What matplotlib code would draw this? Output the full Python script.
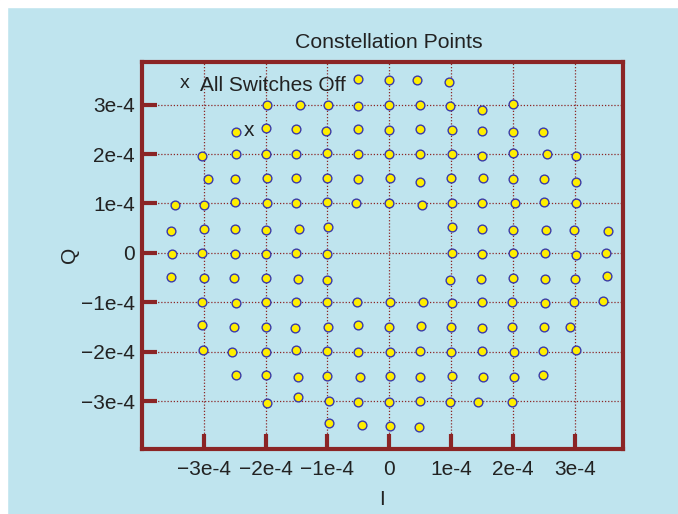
import numpy as np
import matplotlib.pyplot as plt
from matplotlib.ticker import FixedLocator

plt.rcParams['font.family'] = ['Liberation Sans', 'DejaVu Sans']

# constellation points, units of 1e-4, listed row by row (Q = 3.5 ... -3.5)
I_pts = [
    -0.5, 0, 0.45, 0.97,
    -1.98, -1.45, -0.99, -0.5, 0, 0.5, 0.98, 1.49, 1.99,
    -2.48, -2.0, -1.51, -1.02, -0.5, 0, 0.49, 1.01, 1.49, 2.0, 2.49,
    -3.03, -2.48, -2.0, -1.5, -1.0, -0.5, 0, 0.49, 1.01, 1.5, 2.0, 2.54, 3.01,
    -2.93, -2.5, -1.97, -1.5, -1.0, -0.5, 0.01, 0.5, 1.0, 1.52, 2.0, 2.5, 3.01,
    -3.46, -3.0, -2.5, -1.97, -1.5, -1.0, -0.54, 0, 0.52, 1.01, 1.5, 2.03, 2.5, 3.01,
    -3.52, -3.0, -2.5, -2.0, -1.46, -0.99, 1.01, 1.49, 2.0, 2.53, 2.99, 3.54,
    -3.51, -3.02, -2.5, -2.0, -1.5, -1.0, 1.01, 1.5, 2.0, 2.51, 3.01, 3.5,
    -3.52, -3.0, -2.51, -2.0, -1.48, -1.0, 0.98, 1.48, 2.0, 2.51, 3.0, 3.52,
    -3.02, -2.48, -2.0, -1.51, -1.0, -0.52, 0.01, 0.55, 1.01, 1.5, 1.98, 2.51, 2.99, 3.45,
    -3.02, -2.51, -2.0, -1.52, -0.99, -0.51, -0.01, 0.51, 1.0, 1.5, 1.98, 2.5, 2.92,
    -3.01, -2.54, -2.0, -1.51, -1.0, -0.5, 0.01, 0.49, 1.0, 1.49, 2.01, 2.49, 3.01,
    -2.48, -2.0, -1.48, -1.0, -0.48, 0.01, 0.49, 1.01, 1.51, 2.01, 2.49,
    -1.97, -1.48, -0.97, -0.5, 0, 0.49, 0.98, 1.44, 1.98,
    -0.97, -0.44, 0.01, 0.48,
]
Q_pts = [
    3.52, 3.5, 3.5, 3.45,
    3.0, 3.0, 3.0, 2.97, 3.0, 3.0, 2.97, 2.9, 3.01,
    2.45, 2.53, 2.5, 2.47, 2.5, 2.49, 2.5, 2.49, 2.47, 2.45, 2.45,
    1.97, 2.01, 2.0, 2.01, 2.03, 2.01, 2.0, 2.0, 2.0, 1.97, 2.03, 2.01, 1.97,
    1.5, 1.5, 1.51, 1.51, 1.51, 1.5, 1.51, 1.44, 1.51, 1.51, 1.5, 1.5, 1.43,
    0.97, 0.97, 1.02, 1.0, 1.0, 1.02, 1.0, 1.0, 0.97, 1.0, 1.0, 1.0, 1.02, 1.0,
    0.44, 0.49, 0.49, 0.46, 0.48, 0.52, 0.52, 0.48, 0.46, 0.46, 0.46, 0.44,
    -0.02, 0, -0.02, -0.02, 0, -0.02, 0, -0.02, 0, 0, -0.04, 0,
    -0.48, -0.5, -0.5, -0.5, -0.52, -0.55, -0.55, -0.52, -0.5, -0.52, -0.52, -0.46,
    -1.0, -1.02, -1.0, -1.0, -1.0, -0.99, -1.0, -1.0, -1.02, -1.0, -1.0, -1.02, -0.99, -0.97,
    -1.45, -1.5, -1.5, -1.53, -1.5, -1.47, -1.5, -1.48, -1.5, -1.53, -1.5, -1.5, -1.5,
    -1.97, -2.01, -2.0, -1.96, -1.98, -2.0, -2.0, -1.98, -2.01, -1.98, -2.0, -1.98, -1.97,
    -2.48, -2.48, -2.51, -2.5, -2.52, -2.5, -2.52, -2.5, -2.52, -2.52, -2.48,
    -3.03, -2.92, -3.0, -3.02, -3.02, -2.99, -3.02, -3.02, -3.02,
    -3.45, -3.49, -3.5, -3.52,
]
off_I, off_Q = -2.27, 2.47
ticks = [-3, -2, -1, 0, 1, 2, 3]
tick_labels = ['\u22123e-4', '\u22122e-4', '\u22121e-4', '0', '1e-4', '2e-4', '3e-4']

bg = '#bfe4ee'
red = '#8b2525'
txt = '#222222'

fig = plt.figure(figsize=(6.78, 5.14), dpi=100, facecolor=bg)
ax = fig.add_axes([141.7/678, 1-449/514, (622.7-141.7)/678, (449-61.7)/514])
ax.set_facecolor(bg)

scale = 1e-4
I = np.array(I_pts) * scale
Q = np.array(Q_pts) * scale
ax.plot(I, Q, 'o', ms=6.3, mfc='#ffee00', mec='#3a3aa8', mew=1.0, zorder=3)
ax.text(off_I*scale, off_Q*scale, 'x', fontsize=15, ha='center', va='center', color=txt)
ax.text(-3.3*scale, 3.43*scale, 'x', fontsize=14, ha='center', va='center', color=txt)
ax.text(-3.06*scale, 3.38*scale, 'All Switches Off', fontsize=15, ha='left', va='center', color=txt)

ax.set_xlim(-4.0*scale, 3.77*scale)
ax.set_ylim(-3.97*scale, 3.87*scale)
ax.xaxis.set_major_locator(FixedLocator(np.array(ticks)*scale))
ax.yaxis.set_major_locator(FixedLocator(np.array(ticks)*scale))
ax.set_xticklabels(tick_labels)
ax.set_yticklabels(tick_labels)
ax.tick_params(direction='in', length=11, width=3, color=red, labelsize=15,
               labelcolor=txt)
ax.tick_params(axis='y', pad=5)
ax.tick_params(axis='x', pad=8)
ax.grid(True, color=red, linestyle=(0, (1, 1.5)), linewidth=0.9)
for s in ax.spines.values():
    s.set_color(red)
    s.set_linewidth(3)

ax.set_title('Constellation Points', fontsize=15.3, color=txt, pad=10, x=0.514)
ax.set_xlabel('I', fontsize=15, color=txt, labelpad=8)
ax.set_ylabel('Q', fontsize=15, color=txt, labelpad=1, rotation=90)

# white border at top and left
fig.patches.append(plt.Rectangle((0, 0), 7/678, 1, transform=fig.transFigure, color='white', zorder=-1))
fig.patches.append(plt.Rectangle((0, 1-7/514), 1, 7/514, transform=fig.transFigure, color='white', zorder=-1))

fig.savefig('out.png', dpi=100, facecolor=bg)
